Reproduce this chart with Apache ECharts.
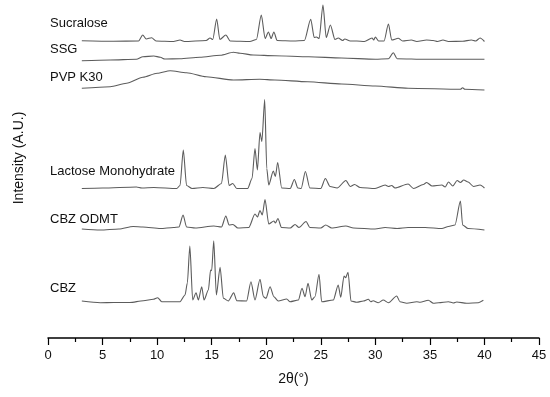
<!DOCTYPE html>
<html>
<head>
<meta charset="utf-8">
<script src="https://cdn.jsdelivr.net/npm/echarts@6/dist/echarts.min.js"></script>
<style>html,body{margin:0;padding:0;background:#fff;}#c{width:550px;height:397px;}</style>
</head>
<body>
<div id="c"></div>
<script>
// Sample names (top to bottom)
const names = ['Sucralose', 'SSG', 'PVP K30', 'Lactose Monohydrate', 'CBZ ODMT', 'CBZ'];
// Vertical stacking offsets of each pattern (A.U.)
const offsets = [296.5, 277, 249, 149.5, 109, 35.5];

// [2theta, relative intensity]
const sucralose = [[3.1,0.8],[6,0.3],[8.3,0.5],[8.68,6.5],[9.0,2.5],[9.5,3.8],[9.9,0.5],[11.5,0],[12.1,1.5],[12.5,0],[14.5,1],[14.85,3.5],[15.1,2],[15.46,22.5],[15.75,2],[16.3,6.5],[16.7,0.5],[18.5,0],[19.1,2],[19.55,26.5],[19.9,3],[20.2,9.5],[20.45,3],[20.7,9.5],[21.0,1],[22.5,0.5],[23.5,1],[24.08,22.2],[24.4,4],[24.6,4.5],[24.85,3],[25.2,36.5],[25.5,4],[25.88,16.5],[26.3,2],[26.6,3.5],[27.0,1],[27.2,2.5],[27.7,0.5],[28.3,0.5],[29.0,0],[29.7,3.5],[29.85,1.5],[30.0,4.5],[30.3,0.5],[30.8,0.5],[31.2,17.5],[31.5,1.5],[32.1,3.2],[32.5,0.5],[33.3,1.5],[33.8,0],[34.7,1.5],[35.3,1],[35.7,0],[36.2,1.5],[36.7,0],[38.0,0.2],[38.8,1.5],[39.2,0.5],[39.6,3.5],[40.0,0]];
const ssg = [[3.1,0.3],[5.7,1],[8.1,1.7],[8.7,4.3],[9.7,5],[10.3,3.7],[10.7,2],[12.1,2.3],[13.9,3.7],[15.8,5.7],[17.0,8.7],[17.6,7.7],[18.8,6],[20.8,5.3],[23.9,4.3],[26.9,3],[30.0,1.7],[31.2,2.3],[31.65,8.3],[32.0,2.3],[34.6,1.7],[40,1.7]];
const pvp = [[3.1,0.7],[5.7,2.3],[7.2,5.7],[8.7,11.7],[10,15.7],[11.2,18.3],[12.7,16.3],[14.5,12.3],[17,9],[19.4,9.7],[20.8,9],[23.8,7.3],[26.9,5],[30,3],[33,0.7],[37.8,-0.3],[38,1.3],[38.2,-0.3],[40,-1]];
const lactose = [[3.1,0],[5,0.5],[8.1,1.5],[8.6,0.5],[9.7,1],[11.8,0],[12.1,3],[12.4,38.5],[12.7,3],[13.2,0],[14.2,1],[15.2,0],[15.9,5],[16.25,33.5],[16.6,3],[16.93,5],[17.3,0],[18.3,0],[18.7,10],[18.97,40],[19.19,18.5],[19.43,56],[19.6,47],[19.86,89],[20.05,20],[20.23,3.5],[20.65,17.5],[20.84,12],[21.05,26],[21.42,0.5],[22.2,0],[22.58,9],[22.9,0.5],[23.2,0],[23.59,17],[24.0,0.5],[25.0,0],[25.42,10],[25.85,2],[26.5,0.5],[27.3,8],[27.7,2],[28.1,4],[28.6,1],[29.97,0],[30.9,3.5],[31.2,2],[31.5,3],[31.8,0.5],[33.0,4.5],[33.5,0],[34.4,4],[34.7,6],[35.2,2.5],[36.1,3.5],[36.4,1.5],[36.7,6.5],[37.1,2.5],[37.5,8],[37.8,6],[38.1,8.5],[38.5,6.5],[39.0,2],[39.6,3.5],[40.0,0.5]];
const odmt = [[3.1,0],[4.8,-1],[6.5,0],[7.8,2.5],[8.7,2],[10.3,0.5],[11.5,1.5],[12.0,2],[12.38,14],[12.7,2],[13.5,1],[15.2,3],[15.9,2],[16.3,13],[16.6,4],[16.95,4.5],[17.4,1],[18.4,1.5],[18.97,15],[19.2,12],[19.43,18.5],[19.64,14],[19.89,29.5],[20.23,5],[20.7,8],[20.84,6],[21.07,10.5],[21.4,1.5],[22.2,1],[22.64,4.5],[23.0,1.5],[23.65,7.5],[24.0,1.5],[25.0,1],[25.45,4],[26.0,1],[27.3,3],[28,1],[29.97,0],[30.9,1.5],[32,0.5],[33,1.5],[34.56,1.5],[36.1,0.5],[36.7,2.5],[37.3,4],[37.8,28],[38.0,4],[38.5,0.5],[40,-1]];
const cbz = [[3.1,1.5],[4.8,-0.2],[6,0],[7.5,0],[8.74,1.8],[9.65,3.2],[10.05,4.8],[10.42,0.8],[12.1,0.8],[12.56,7.5],[12.77,19.5],[13.0,56.5],[13.26,2.5],[13.57,9.8],[13.78,2.5],[14.09,15.8],[14.3,2.5],[14.7,12.5],[14.9,32.5],[15.0,31.8],[15.19,61.8],[15.43,7.5],[15.77,35.2],[16.07,4.2],[16.53,1.5],[17.02,9.8],[17.3,1.8],[18.2,1.5],[18.6,20.8],[18.97,2.5],[19.43,23.2],[19.74,5.8],[19.98,4.2],[20.35,15.8],[20.7,5.8],[21.1,1.5],[21.88,3.5],[22.18,0.8],[22.95,2.5],[23.28,14.2],[23.56,5.8],[23.83,19.2],[24.17,2.5],[24.47,5.8],[24.84,28.2],[25.08,0.8],[26.15,2.5],[26.6,17.5],[26.83,5.2],[27.13,26.5],[27.28,24.8],[27.5,30.2],[27.77,1.5],[28.3,0.2],[28.9,1.5],[29.36,3.2],[29.58,0.8],[29.8,1.8],[30.27,-0.2],[30.73,2.5],[31.2,-0.2],[31.96,6.5],[32.26,0.8],[32.88,-0.8],[33.8,0.8],[34.1,0.2],[34.86,2.2],[35.32,-0.8],[35.8,-0.2],[36.7,0.8],[37.15,-0.5],[37.46,0.5],[38.37,-0.8],[39.44,-0.2],[39.9,2.2]];

const patterns = [sucralose, ssg, pvp, lactose, odmt, cbz];
const labelY = [24, 50, 78, 172.7, 220, 289];

const chart = echarts.init(document.getElementById('c'), null, {renderer: 'canvas'});
const font = '"Liberation Sans", Arial, sans-serif';

const series = patterns.map((p, i) => ({
  name: names[i],
  type: 'line',
  data: p.map(d => [d[0], d[1] + offsets[i]]),
  showSymbol: false,
  symbol: 'none',
  clip: false,
  smooth: 0.25,
  smoothMonotone: 'x',
  lineStyle: {color: '#5c5c5c', width: 1.1},
  animation: false
}));

chart.setOption({
  animation: false,
  grid: {left: 48, right: 11, top: 0, bottom: 59},
  xAxis: {
    type: 'value', min: 0, max: 45, interval: 5,
    name: '2θ(°)', nameLocation: 'middle', nameGap: 34,
    nameTextStyle: {fontFamily: font, fontSize: 14, color: '#111'},
    axisLine: {show: true, lineStyle: {color: '#000', width: 1.5}},
    axisTick: {show: true, length: 7, lineStyle: {color: '#000', width: 1.2}},
    minorTick: {show: true, splitNumber: 2, length: 4, lineStyle: {color: '#000', width: 1.2}},
    axisLabel: {fontFamily: font, fontSize: 13, color: '#111', margin: 11},
    splitLine: {show: false}
  },
  yAxis: {
    type: 'value', min: 0, max: 338,
    name: 'Intensity (A.U.)', nameLocation: 'middle', nameGap: 22,
    nameTextStyle: {fontFamily: font, fontSize: 14, color: '#111', padding: [0, 0, 0, 22]},
    axisLine: {show: false}, axisTick: {show: false}, axisLabel: {show: false},
    splitLine: {show: false}
  },
  graphic: names.map((n, i) => ({
    type: 'text', left: 50, top: labelY[i] - 7.5,
    style: {text: n, font: '13px ' + font, fill: '#111'}
  })),
  series: series
});
</script>
</body>
</html>
